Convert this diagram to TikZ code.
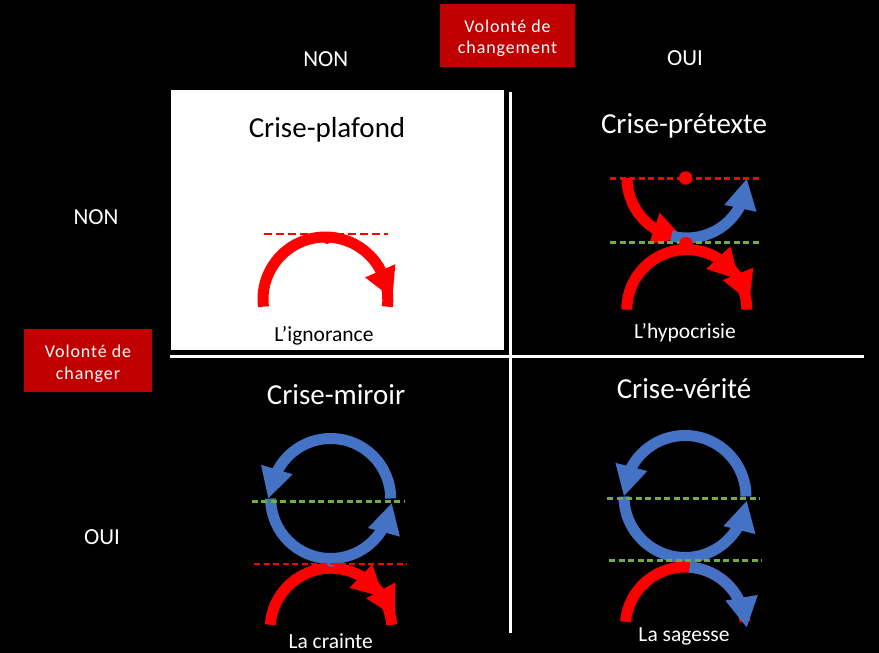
\documentclass[tikz,border=0pt]{standalone}
\usepackage{fontspec}
\setmainfont{Carlito}
\definecolor{pred}{HTML}{FF0000}
\definecolor{pblue}{HTML}{4472C4}
\definecolor{pgreen}{HTML}{70AD47}
\definecolor{boxred}{HTML}{C00000}
\begin{document}
\begin{tikzpicture}[x=1pt,y=1pt,
  thk/.style={line width=11pt},
  dline/.style={line width=2.5pt, dash pattern=on 6pt off 3.5pt},
  ahead/.pic={\fill (0,0) -- (-30,16.5) -- (-30,-16.5) -- cycle;},
  ttl/.style={font=\fontsize{29}{34}\selectfont, text=white, anchor=base, inner sep=0pt},
  lbl/.style={font=\fontsize{21.5}{26}\selectfont, text=white, anchor=base, inner sep=0pt},
  hdr/.style={font=\fontsize{23}{28}\selectfont, text=white, anchor=base, inner sep=0pt},
  vtxt/.style={font=\fontsize{18}{21.5}\selectfont\addfontfeature{LetterSpace=5}, text=white, align=center, inner sep=0pt},
]
\fill[black] (0,0) rectangle (879,653);
\useasboundingbox (0,0) rectangle (879,653);

% white quadrant
\fill[white] (171,303) rectangle (504,563);
% dividers
\draw[white, line width=3pt] (510,561) -- (510,20);
\draw[white, line width=3pt] (170,296) -- (864,296);

% header boxes
\fill[boxred] (440,586) rectangle (575,649);
\node[vtxt] (vtop) at (507.5,614.5) {Volonté de\\changement};
\fill[boxred] (24,261) rectangle (152,324);
\node[vtxt] (vleft) at (88,289) {Volonté de\\changer};

\node[hdr] (colnon) at (325.8,586.3) {NON};
\node[hdr] (coloui) at (685,587) {OUI};
\node[hdr] (rownon) at (96,428.6) {NON};
\node[hdr] (rowoui) at (102,108.6) {OUI};

% titles and labels
\node[ttl, text=black] (t1) at (327,515) {Crise-plafond};
\node[ttl] (t2) at (684,519) {Crise-prétexte};
\node[ttl] (t3) at (336,248) {Crise-miroir};
\node[ttl] (t4) at (684,254) {Crise-vérité};
\node[lbl, text=black] (l1) at (324,311.3) {L’ignorance};
\node[lbl] (l2) at (685,314.7) {L’hypocrisie};
\node[lbl] (l3) at (330.7,4.7) {La crainte};
\node[lbl] (l4) at (684,11.3) {La sagesse};

% ---- panel 1: plafond
\coordinate (c1) at (325.4,353.6);
\draw[pred,thk] ([shift={(186.7:62.4)}]c1) arc[start angle=186.7,end angle=-6.7,radius=62.4];
\pic[pred,rotate=-66.3] at (392.3,354.7) {ahead};
\draw[pred,dline,dash pattern=on 8pt off 4pt] (264,419) -- (388,419);
\fill[pred] (327,413) circle (4);

% ---- panel 2: pretexte
\coordinate (c2l) at (686.8,343.4);
\coordinate (c2u) at (687,475);
\draw[pred,thk] ([shift={(180:60)}]c2l) arc[start angle=180,end angle=0,radius=60];
\pic[pred,rotate=-47] at (738.8,373.4) {ahead};
\pic[pred,rotate=-67.9] at (749.3,351.3) {ahead};
\draw[pred,thk] ([shift={(180:60)}]c2u) arc[start angle=180,end angle=250,radius=60];
\pic[pred,rotate=-18.6] at (682.8,415.1) {ahead};
\draw[pblue,thk] ([shift={(255:60)}]c2u) arc[start angle=255,end angle=340,radius=60];
\pic[pblue,rotate=77.9] at (746.7,474) {ahead};
\draw[pred,dline] (610,474.7) -- (762,474.7);
\draw[pgreen,dline] (610,410.7) -- (762,410.7);
\fill[pred] (685.7,475) circle (6.7);
\fill[pred] (686,409) circle (7);

% ---- panel 3: miroir
\coordinate (c3) at (330.7,154.5);
\coordinate (c3l) at (331,24);
\draw[pblue,thk] ([shift={(0:60)}]c3) arc[start angle=0,end angle=165,radius=60];
\pic[pblue,rotate=-106.6] at (268.3,154.7) {ahead};
\draw[pblue,thk] ([shift={(180:60)}]c3) arc[start angle=180,end angle=345,radius=60];
\pic[pblue,rotate=75] at (391.7,149.7) {ahead};
\draw[pred,thk] ([shift={(176:60.8)}]c3l) arc[start angle=176,end angle=4,radius=60.8];
\pic[pred,rotate=-44] at (382.6,56.2) {ahead};
\pic[pred,rotate=-61.4] at (395,36.3) {ahead};
\fill[pblue] (331,91) circle (5);
\draw[pgreen,dline] (251.7,151.3) -- (405,151.3);
\draw[pred,dline] (254,89) -- (406.7,89);

% ---- panel 4: verite
\coordinate (c4) at (685,156.5);
\coordinate (c4l) at (685.3,26);
\draw[pblue,thk] ([shift={(0:61)}]c4) arc[start angle=0,end angle=165,radius=61];
\pic[pblue,rotate=-104.3] at (624,157) {ahead};
\draw[pblue,thk] ([shift={(180:61)}]c4) arc[start angle=180,end angle=345,radius=61];
\pic[pblue,rotate=76] at (746.7,152) {ahead};
\draw[pred,thk] ([shift={(175:60)}]c4l) arc[start angle=175,end angle=5,radius=60];
\draw[pblue,thk] ([shift={(86:60)}]c4l) arc[start angle=86,end angle=14,radius=60];
\pic[pblue,rotate=-80.2] at (746.7,25.7) {ahead};
\fill[pred] (685,87) circle (5);
\draw[pgreen,dline] (607.3,154.7) -- (760,154.7);
\draw[pgreen,dline] (609.3,92.3) -- (761.7,92.3);
\end{tikzpicture}
\end{document}
